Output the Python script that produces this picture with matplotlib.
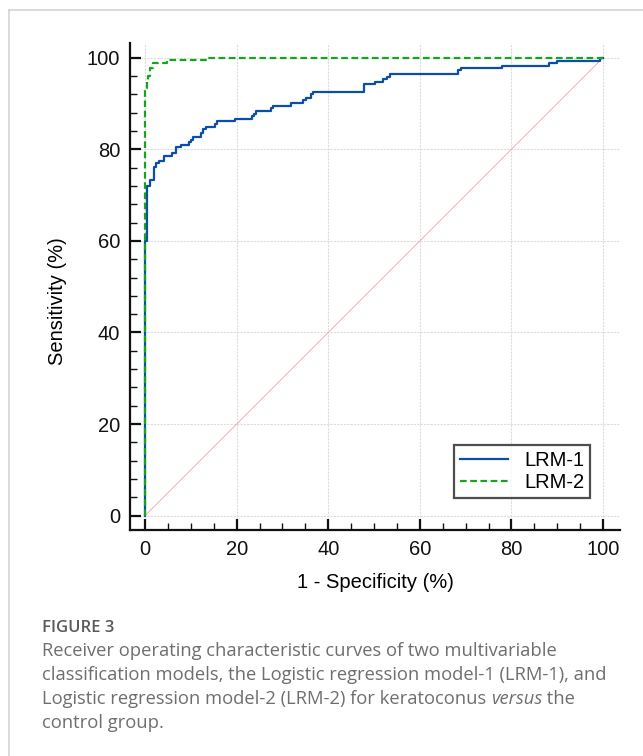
import matplotlib
matplotlib.use("Agg")
import matplotlib.pyplot as plt
from matplotlib.ticker import MultipleLocator
from matplotlib.lines import Line2D

# ROC curves (1 - specificity %, sensitivity %)
lrm1_fpr = [0, 0, 0.4, 1.1, 2.0, 2.5, 3.1, 4.15, 5.8, 6.8, 7.8, 9.5, 10.0, 10.4,
            12.2, 12.7, 13.3, 15.3, 15.8, 19.65, 23.3, 23.8, 24.3, 27.4, 28.0,
            31.8, 34.4, 35.1, 36.2, 36.6, 47.7, 50.2, 52.0, 52.8, 53.4, 68.4,
            68.9, 77.9, 88.1, 90.0, 99.4, 100]
lrm1_tpr = [0, 60, 71.9, 73.2, 76.2, 76.9, 77.5, 78.6, 79.2, 80.5, 80.9, 81.6,
            82.1, 82.6, 83.5, 84.4, 84.9, 85.5, 86.1, 86.7, 87.2, 87.8, 88.4,
            88.9, 89.4, 90.2, 90.7, 91.3, 92.0, 92.5, 94.2, 94.75, 95.3, 95.85,
            96.4, 97.3, 97.7, 98.2, 98.8, 99.3, 100, 100]

lrm2_fpr = [0, 0, 0.4, 0.7, 1.0, 1.8, 4.7, 13.8, 100]
lrm2_tpr = [0, 93.4, 94.8, 96.0, 97.7, 98.8, 99.4, 100, 100]

diag = [0, 100]
ticks = [0, 20, 40, 60, 80, 100]

caption_title = "FIGURE 3"
caption_lines = [
    ["Receiver operating characteristic curves of two multivariable"],
    ["classification models, the Logistic regression model-1 (LRM-1), and"],
    ["Logistic regression model-2 (LRM-2) for keratoconus ", "versus", " the"],
    ["control group."],
]

W, H = 643, 756
fig = plt.figure(figsize=(W / 100, H / 100), dpi=100)
fig.patch.set_facecolor("white")

# card border (top and left edge)
fig.add_artist(Line2D([9 / W, 1], [1 - 10 / H, 1 - 10 / H], color="#d4d4d4", lw=1.2))
fig.add_artist(Line2D([9 / W, 9 / W], [0, 1 - 10 / H], color="#d4d4d4", lw=1.2))

ax = fig.add_axes([130 / W, 1 - 530 / H, (620 - 130) / W, (530 - 43) / H])
ax.set_xlim(-3.28, 103.7)
ax.set_ylim(-3.13, 103.2)

ax.plot(diag, diag, color="#f4a0a0", lw=0.6, zorder=2)
ax.plot(lrm1_fpr, lrm1_tpr, drawstyle="steps-post", color="#0a4ea6", lw=1.6,
        label="LRM-1", zorder=3)
ax.plot(lrm2_fpr, lrm2_tpr, drawstyle="steps-post", color="#14a51c", lw=1.6,
        ls=(0, (3, 1.6)), label="LRM-2", zorder=4)

for s in ["top", "right"]:
    ax.spines[s].set_visible(False)
for s in ["left", "bottom"]:
    ax.spines[s].set_linewidth(1.6)
    ax.spines[s].set_color("#111111")

ax.set_xticks(ticks)
ax.set_yticks(ticks)
ax.xaxis.set_minor_locator(MultipleLocator(5))
ax.yaxis.set_minor_locator(MultipleLocator(4))
ax.tick_params(which="major", direction="in", length=8, width=1.6,
               labelsize=14.5, pad=7, colors="#111111")
ax.tick_params(which="minor", direction="in", length=5, width=1.0, colors="#111111")
for lab in ax.get_xticklabels() + ax.get_yticklabels():
    lab.set_family("Liberation Sans")

ax.grid(True, which="major", color="#dcdcdc", lw=0.8, ls=(0, (2, 1)))
ax.set_axisbelow(True)

ax.set_xlabel("1 - Specificity (%)", fontsize=14.5, family="Liberation Sans", labelpad=10)
ax.set_ylabel("Sensitivity (%)", fontsize=14.5, family="Liberation Sans")
ax.yaxis.set_label_coords(-0.128, 0.47)

leg = ax.legend(loc="lower right", bbox_to_anchor=(0.96, 0.045),
                prop={"family": "Liberation Sans", "size": 14.5},
                frameon=True, fancybox=False, handlelength=2.4,
                borderpad=0.3, labelspacing=0.15, handletextpad=0.8)
leg.get_frame().set_edgecolor("#222222")
leg.get_frame().set_linewidth(1.6)

# caption
fig.text(42 / W, 1 - 628 / H, caption_title, fontsize=12, color="#5a5a5a",
         family="Open Sans", fontweight="semibold", va="center")
fig.canvas.draw()
renderer = fig.canvas.get_renderer()
for i, parts in enumerate(caption_lines):
    x = 42 / W
    for j, part in enumerate(parts):
        style = "italic" if part == "versus" else "normal"
        t = fig.text(x, 1 - (656 + 24 * i) / H, part, fontsize=13.2, color="#6e6e6e",
                     family="Open Sans", style=style, va="baseline")
        bb = t.get_window_extent(renderer)
        x = bb.x1 / fig.bbox.width

fig.savefig("out.png", dpi=100)
